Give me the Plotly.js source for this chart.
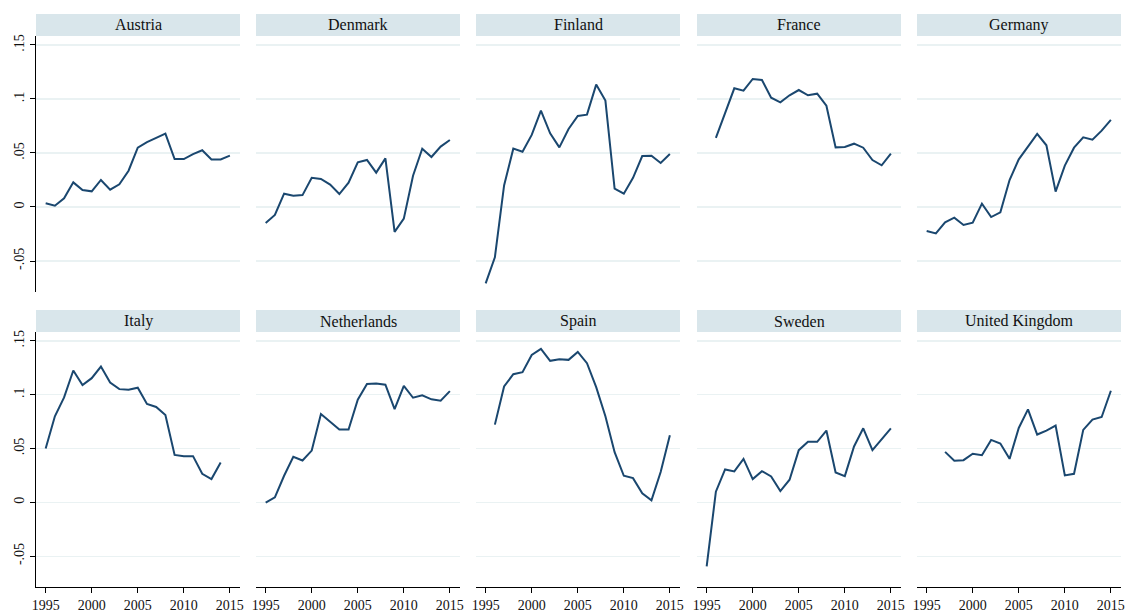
<!DOCTYPE html>
<html>
<head>
<meta charset="utf-8">
<script src="https://cdn.plot.ly/plotly-3.0.1.min.js"></script>
<style>html,body{margin:0;padding:0;background:#fff;}#chart{width:1125px;height:611px;}</style>
</head>
<body>
<div id="chart"></div>
<script>
const years = [1995,1996,1997,1998,1999,2000,2001,2002,2003,2004,2005,2006,2007,2008,2009,2010,2011,2012,2013,2014,2015];
const countries = ["Austria","Denmark","Finland","France","Germany","Italy","Netherlands","Spain","Sweden","United Kingdom"];

const austria = [0.0034,0.0012,0.008,0.0228,0.0157,0.0145,0.025,0.016,0.021,0.0336,0.055,0.060,0.064,0.068,0.0444,0.0444,0.049,0.0525,0.044,0.044,0.0475];
const denmark = [-0.0148,-0.0074,0.0123,0.0105,0.011,0.027,0.026,0.0207,0.012,0.0225,0.0414,0.0435,0.0318,0.045,-0.0231,-0.0108,0.029,0.054,0.0463,0.0559,0.062];
const finland = [-0.0707,-0.0466,0.020,0.054,0.0512,0.0667,0.0892,0.0682,0.0552,0.0722,0.0843,0.0855,0.1133,0.0985,0.017,0.0123,0.027,0.0472,0.0475,0.0407,0.049];
const france = [null,0.0639,0.0861,0.1099,0.1077,0.1185,0.1176,0.1012,0.0969,0.1034,0.1083,0.1034,0.1049,0.0938,0.0552,0.0556,0.0586,0.0549,0.0435,0.0386,0.0494];
const germany = [-0.0222,-0.0244,-0.0142,-0.0099,-0.0167,-0.0145,0.0031,-0.0093,-0.0049,0.025,0.0441,0.0562,0.0676,0.0571,0.0142,0.0383,0.0549,0.0645,0.0623,0.0707,0.0806];
const italy = [0.050,0.080,0.0975,0.1225,0.109,0.1154,0.1262,0.1114,0.1052,0.1046,0.1065,0.0914,0.0886,0.0812,0.0441,0.0429,0.0429,0.0265,0.0216,0.037,null];
const netherlands = [-0.0003,0.0046,0.0247,0.0423,0.0389,0.0481,0.0821,0.0747,0.0676,0.0676,0.0954,0.1099,0.1105,0.1093,0.0867,0.1083,0.0972,0.0994,0.0957,0.0944,0.1034];
const spain = [null,0.0722,0.1077,0.1191,0.121,0.137,0.1426,0.1315,0.133,0.1324,0.1398,0.1293,0.1071,0.080,0.0466,0.0247,0.0225,0.0083,0.0019,0.0281,0.0623];
const sweden = [-0.0596,0.0099,0.0306,0.0287,0.0404,0.0216,0.029,0.0241,0.0105,0.021,0.0485,0.0562,0.0562,0.0667,0.0278,0.0244,0.0519,0.0688,0.0485,0.0583,0.0688];
const uk = [null,null,0.0469,0.0386,0.0392,0.0451,0.0438,0.058,0.0546,0.0404,0.0691,0.0864,0.0630,0.0667,0.0713,0.025,0.0265,0.0673,0.0769,0.0793,0.1037];

const seriesList = [austria,denmark,finland,france,germany,italy,netherlands,spain,sweden,uk];

const yTickVals = [-0.05,0,0.05,0.1,0.15];
const yTickText = ["-.05","0",".05",".1",".15"];
const xTickVals = [1995,2000,2005,2010,2015];
const xTickText = ["1995","2000","2005","2010","2015"];

const W = 1125, H = 611;
const colPx = [[36,240],[256,460],[476,680],[697,901],[917,1121]];
const rowPx = [[36,292],[332,587]];
const headerH = 22;

const lineColor = "#1a476f";
const gridColor = "#eaf2f3";
const headerColor = "#d9e6eb";
const fontFam = "Liberation Serif";

const traces = [];
const layout = {
  width: W, height: H,
  margin: {l:0,r:0,t:0,b:0},
  paper_bgcolor: "#fff", plot_bgcolor: "#fff",
  showlegend: false,
  font: {family: fontFam, color: "#111", size: 13},
  shapes: [], annotations: []
};

seriesList.forEach((vals, i) => {
  const r = Math.floor(i/5), c = i%5;
  const n = i+1;
  const xa = n===1 ? "x" : "x"+n;
  const ya = n===1 ? "y" : "y"+n;
  traces.push({
    x: years, y: vals, type: "scatter", mode: "lines",
    line: {color: lineColor, width: 2},
    connectgaps: false,
    xaxis: xa, yaxis: ya, hoverinfo: "skip"
  });
  const xd = [colPx[c][0]/W, colPx[c][1]/W];
  const yd = [1 - rowPx[r][1]/H, 1 - rowPx[r][0]/H];
  const xKey = n===1 ? "xaxis" : "xaxis"+n;
  const yKey = n===1 ? "yaxis" : "yaxis"+n;
  const bottom = r===1;
  const left = c===0;
  layout[xKey] = {
    domain: xd, anchor: ya, range: [1993.95, 2016.1],
    showgrid: false, zeroline: false,
    showline: bottom, linecolor: "#000", linewidth: 1,
    ticks: bottom ? "outside" : "", ticklen: 5, tickcolor: "#000",
    showticklabels: bottom, ticklabeloverflow: "allow",
    tickmode: "array", tickvals: xTickVals, ticktext: xTickText,
    tickfont: {family: fontFam, size: 14, color: "#111"}
  };
  layout[yKey] = {
    domain: yd, anchor: xa, range: [-0.0787, 0.1583],
    showgrid: true, gridcolor: gridColor, gridwidth: 1.2, zeroline: false,
    showline: left, linecolor: "#000", linewidth: 1,
    ticks: left ? "outside" : "", ticklen: 5, tickcolor: "#000",
    showticklabels: left, tickangle: -90, ticklabeloverflow: "allow",
    tickfont: {family: fontFam, size: 14, color: "#111"},
    tickmode: "array", tickvals: yTickVals, ticktext: yTickText
  };
  const hy0 = 1 - rowPx[r][0]/H;
  const hy1 = 1 - (rowPx[r][0]-headerH)/H;
  layout.shapes.push({
    type: "rect", xref: "paper", yref: "paper",
    x0: xd[0], x1: xd[1], y0: hy0, y1: hy1,
    fillcolor: headerColor, line: {width: 0}, layer: "below"
  });
  layout.annotations.push({
    xref: "paper", yref: "paper",
    x: (xd[0]+xd[1])/2, y: (hy0+hy1)/2,
    text: countries[i], showarrow: false,
    xanchor: "center", yanchor: "middle",
    font: {family: fontFam, size: 16, color: "#111"}
  });
});

Plotly.newPlot("chart", traces, layout, {displayModeBar: false, staticPlot: true});
</script>
</body>
</html>
